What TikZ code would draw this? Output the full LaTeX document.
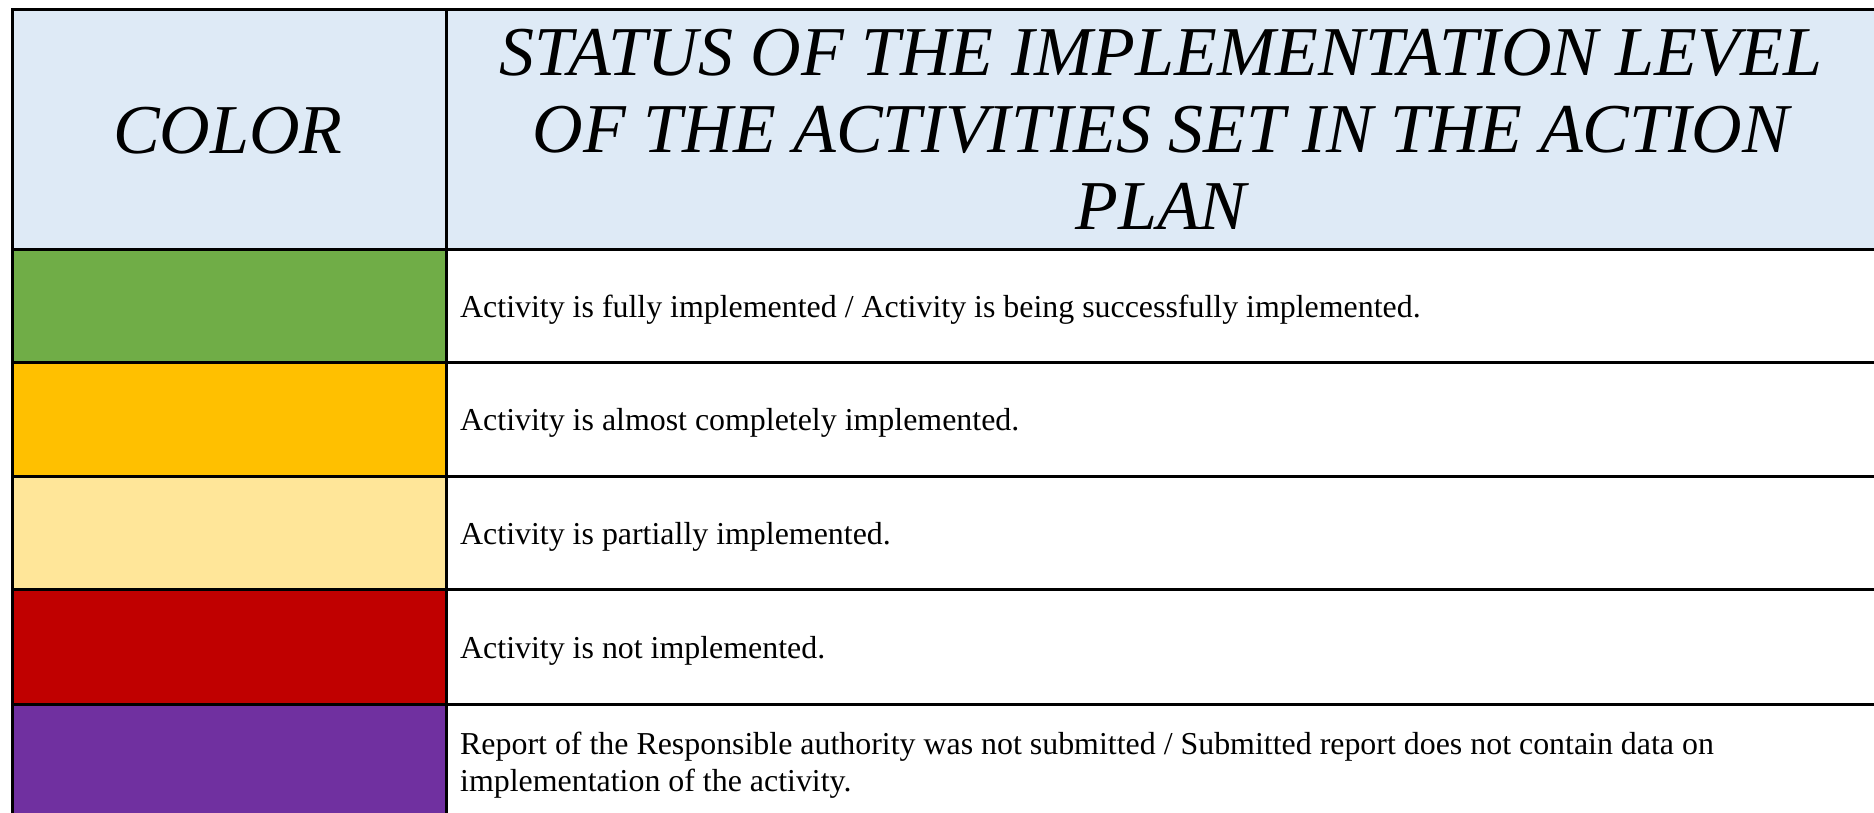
\documentclass[tikz,border=0pt]{standalone}
\usepackage{fontspec}
\setmainfont{Liberation Serif}
\definecolor{hdr}{HTML}{DEEAF6}
\definecolor{cgreen}{HTML}{70AD47}
\definecolor{corange}{HTML}{FFC000}
\definecolor{cpale}{HTML}{FFE699}
\definecolor{cred}{HTML}{C00000}
\definecolor{cpurple}{HTML}{7030A0}
\begin{document}
\begin{tikzpicture}[x=1pt,y=-1pt,
  cell/.style={draw=black,line width=3pt,inner sep=0pt,anchor=north west,rectangle},
  lcell/.style={cell,minimum width=434pt},
  rcell/.style={cell,fill=white,minimum width=1440pt},
  head/.style={font=\fontsize{70}{77}\selectfont\itshape,inner sep=0pt},
  body/.style={font=\fontsize{31.9}{37.5}\selectfont,inner sep=0pt,anchor=base west}]
\useasboundingbox (0,0) rectangle (1874,812);
% header
\node[lcell,fill=hdr,minimum height=240pt] (h1) at (11,8) {};
\node[rcell,fill=hdr,minimum height=240pt] (h2) at (445,8) {};
% rows
\node[lcell,fill=cgreen,minimum height=113pt] (c1) at (11,248) {};
\node[rcell,minimum height=113pt] (r1) at (445,248) {};
\node[lcell,fill=corange,minimum height=114pt] (c2) at (11,361) {};
\node[rcell,minimum height=114pt] (r2) at (445,361) {};
\node[lcell,fill=cpale,minimum height=113pt] (c3) at (11,475) {};
\node[rcell,minimum height=113pt] (r3) at (445,475) {};
\node[lcell,fill=cred,minimum height=115pt] (c4) at (11,588) {};
\node[rcell,minimum height=115pt] (r4) at (445,588) {};
\node[lcell,fill=cpurple,minimum height=125pt] (c5) at (11,703) {};
\node[rcell,minimum height=125pt] (r5) at (445,703) {};
% header texts
\node[head] (colt) at (228,130.5) {COLOR};
\node[head,align=center] (stat) at (1161,129) {STATUS OF THE IMPLEMENTATION LEVEL\\OF THE ACTIVITIES SET IN THE ACTION\\PLAN};
% body texts
\node[body] (t1) at (460,317) {Activity is fully implemented / Activity is being successfully implemented.};
\node[body] (t2) at (460,430.5) {Activity is almost completely implemented.};
\node[body] (t3) at (460,544) {Activity is partially implemented.};
\node[body] (t4) at (460,658) {Activity is not implemented.};
\node[body,anchor=north west,align=left] (t5) at (460,731.5) {Report of the Responsible authority was not submitted / Submitted report does not contain data on\\implementation of the activity.};
\end{tikzpicture}
\end{document}
